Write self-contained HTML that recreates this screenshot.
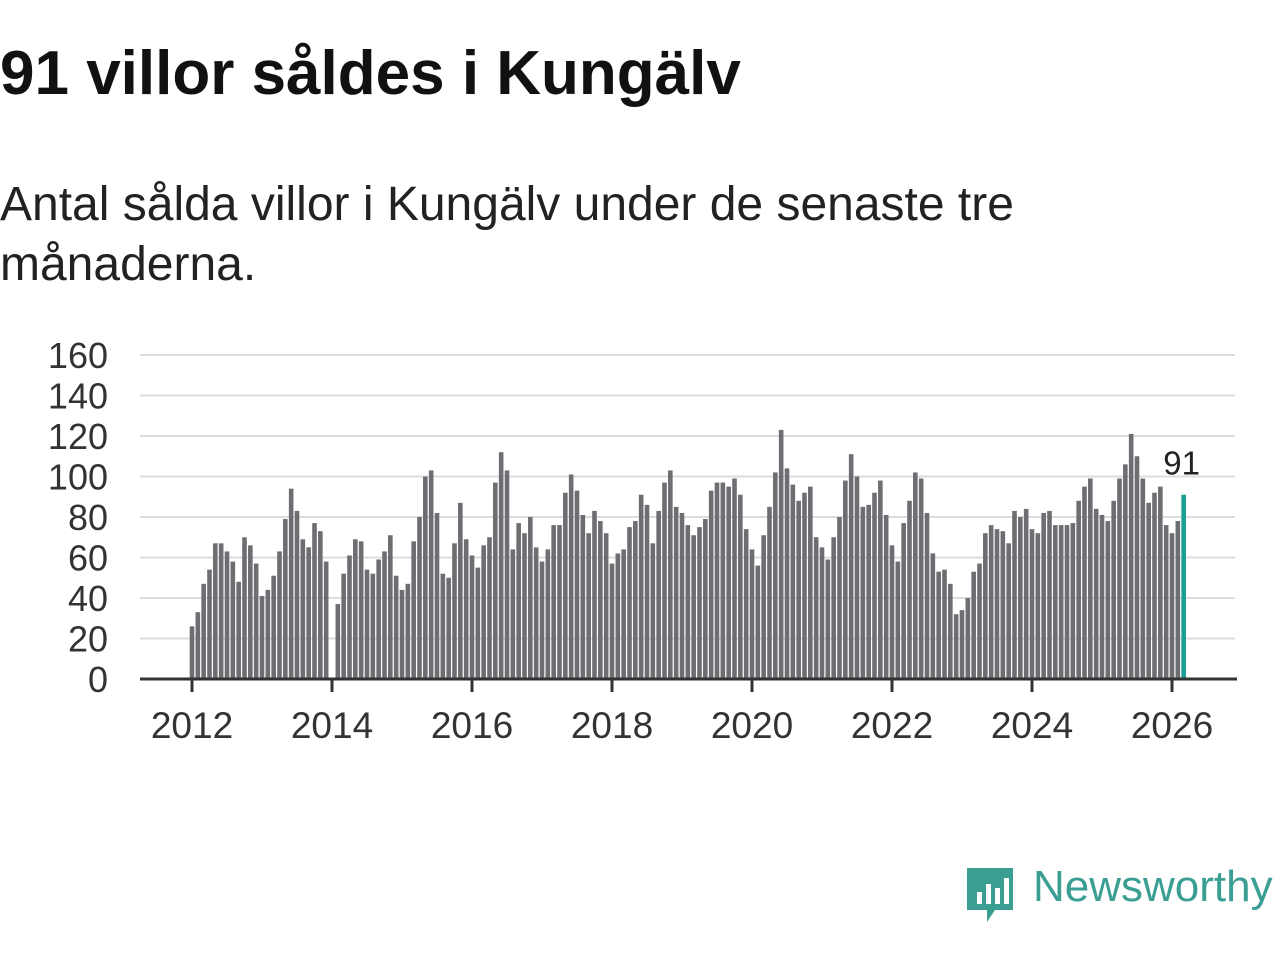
<!DOCTYPE html>
<html><head><meta charset="utf-8"><style>
body{margin:0;width:1280px;height:960px;background:#fff;font-family:"Liberation Sans","DejaVu Sans",sans-serif;overflow:hidden;position:relative}
h1{position:absolute;left:0;top:38px;margin:0;font-size:62px;font-weight:bold;color:#111;}
.sub{position:absolute;left:0;top:175px;margin:0;font-size:48px;line-height:60px;color:#222;width:1200px}
</style></head><body>
<h1>91 villor såldes i Kungälv</h1>
<p class="sub">Antal sålda villor i Kungälv under de senaste tre<br>månaderna.</p>
<svg id="chart" width="1280" height="960" style="position:absolute;left:0;top:0"></svg>
<div style="position:absolute;left:965px;top:866px;">
<svg width="52" height="60"><path d="M2 2h46v42H30l-8 12v-12H2z" fill="#3a9e93"/><rect x="12" y="26" width="5" height="12" fill="#fff"/><rect x="21" y="18" width="5" height="20" fill="#fff"/><rect x="30" y="22" width="5" height="16" fill="#fff"/><rect x="39" y="12" width="5" height="26" fill="#fff"/></svg>
</div>
<div style="position:absolute;left:1033px;top:862px;font-size:44px;color:#3a9e93;">Newsworthy</div>
<script>
const years=[2012,2014,2016,2018,2020,2022,2024,2026];
const yTicks=[0,20,40,60,80,100,120,140,160];
const values=[26,33,47,54,67,67,63,58,48,70,66,57,
41,44,51,63,79,94,83,69,65,77,73,58,
null,37,52,61,69,68,54,52,59,63,71,51,
44,47,68,80,100,103,82,52,50,67,87,69,
61,55,66,70,97,112,103,64,77,72,80,65,
58,64,76,76,92,101,93,81,72,83,78,72,
57,62,64,75,78,91,86,67,83,97,103,85,
82,76,71,75,79,93,97,97,95,99,91,74,
64,56,71,85,102,123,104,96,88,92,95,70,
65,59,70,80,98,111,100,85,86,92,98,81,
66,58,77,88,102,99,82,62,53,54,47,32,
34,40,53,57,72,76,74,73,67,83,80,84,
74,72,82,83,76,76,76,77,88,95,99,84,
81,78,88,99,106,121,110,99,87,92,95,76,
72,78,91];
const startYear=2012;
const svg=document.getElementById('chart');const NS='http://www.w3.org/2000/svg';
const x=t=>192+(t-2012)*70;
const y=v=>679-v*2.025;
function mk(tag,a){const e=document.createElementNS(NS,tag);for(const k in a)e.setAttribute(k,a[k]);svg.appendChild(e);return e;}
yTicks.forEach(v=>{
 const l=mk('line',{x1:140,x2:1235,y1:y(v),y2:y(v),stroke:'#dcdcdc','stroke-width':2});
 
 
 const t=mk('text',{x:108,y:y(v)+13,'text-anchor':'end','font-size':36,fill:'#333','font-family':'Liberation Sans, sans-serif'});
 t.textContent=v;
 
 
});
values.forEach((v,i)=>{
 if(v==null)return;
 const last=i===values.length-1;
 const cx=x(startYear+i/12);
 const r=mk('rect',{x:cx-2.3,y:y(v),width:4.6,height:679-y(v),fill:last?'#1a9e93':'#6e6d72'});
 
 
 if(last){const t=mk('text',{x:cx-2,y:y(v)-20,'text-anchor':'middle','font-size':33,fill:'#222','font-family':'Liberation Sans, sans-serif'});t.textContent=v;
 
 }
});
const ax=mk('line',{x1:140,x2:1237,y1:679,y2:679,stroke:'#333','stroke-width':3});


years.forEach(yr=>{
 const tk=mk('line',{x1:x(yr),x2:x(yr),y1:679,y2:692,stroke:'#333','stroke-width':3});
 
 
 const t=mk('text',{x:x(yr),y:738,'text-anchor':'middle','font-size':37,fill:'#333','font-family':'Liberation Sans, sans-serif'});
 t.textContent=yr;
 
 
});
</script>
</body></html>
